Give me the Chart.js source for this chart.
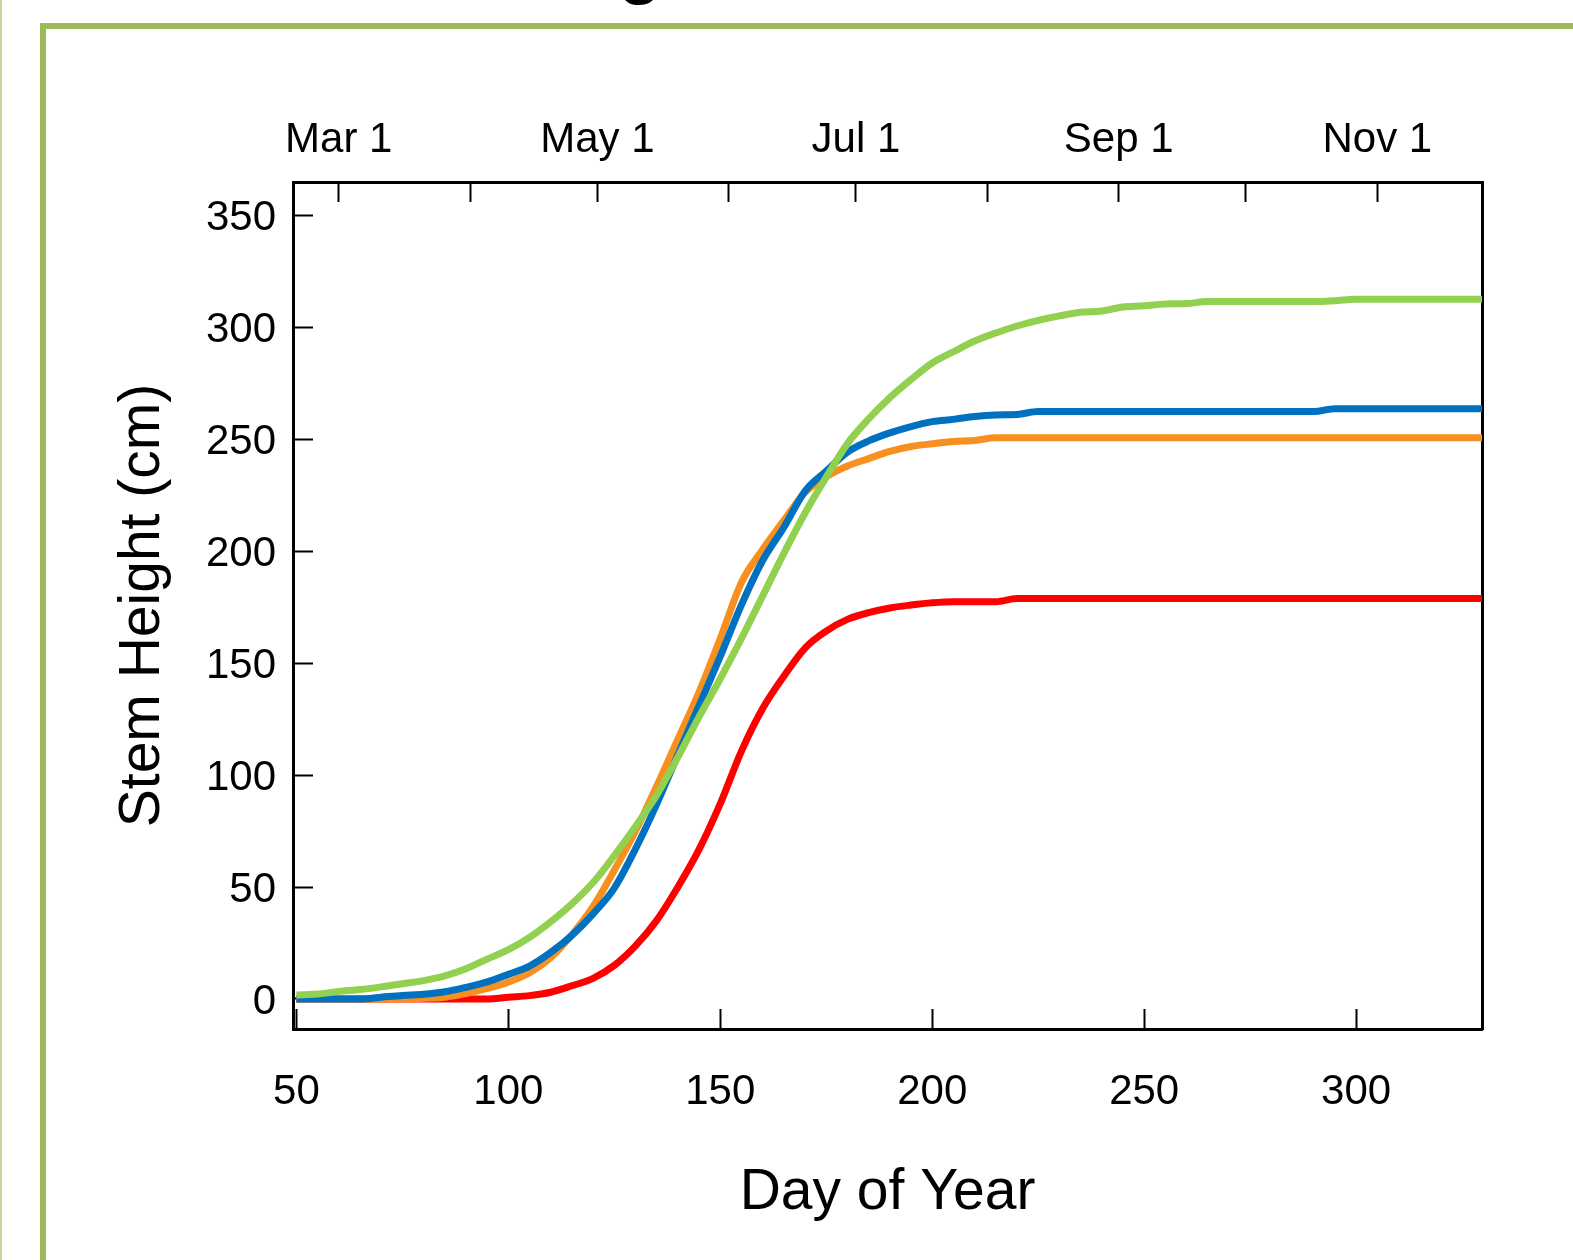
<!DOCTYPE html>
<html lang="en">

<head>
    <meta charset="UTF-8">
    <title>Stem Height</title>
    <script src="https://cdn.jsdelivr.net/npm/chart.js"></script>
    <style>
        html, body { margin: 0; padding: 0; background: #fff; }
        #box { width: 1573px; height: 1260px; }
    </style>
</head>

<body>
    <div id="box"><canvas id="mychart"></canvas></div>

    <script>
        // day of year
        var days = [50, 55, 60, 65, 70, 75, 80, 85, 90, 95, 100, 105, 110, 115, 120, 125, 130, 135, 140, 145,
            150, 155, 160, 165, 170, 175, 180, 185, 190, 195, 200, 205, 210, 215, 220, 225, 230, 235, 240, 245,
            250, 255, 260, 265, 270, 275, 280, 285, 290, 295, 300, 305, 310, 315, 320, 325, 330];

        // stem height (cm)
        var greenLine = [1.8, 2.2, 3.4, 4.2, 5.4, 6.8, 8.2, 10.3, 13.5, 17.8, 22, 27.5, 34.5, 42.5, 52, 64, 77, 91, 108, 126,
            143, 161, 180, 199, 217, 233, 248, 259, 268.5, 276.6, 284, 289, 293.8, 297.4, 300.5, 303, 305, 306.6, 307.2, 309,
            309.5, 310.3, 310.5, 311.4, 311.4, 311.4, 311.4, 311.4, 311.4, 311.8, 312.4, 312.4, 312.4, 312.4, 312.4, 312.4, 312.4];
        var blueLine = [0, 0, 0, 0, 0.8, 1.6, 2.1, 3.2, 5.2, 7.6, 11, 14.7, 20.8, 28.4, 38, 49.5, 67, 87, 109, 131,
            153, 176, 195.8, 210.6, 226.8, 235.7, 244.2, 249.2, 252.8, 255.6, 257.8, 258.8, 260.1, 260.8, 261, 262.3, 262.3, 262.3, 262.3, 262.3,
            262.3, 262.3, 262.3, 262.3, 262.3, 262.3, 262.3, 262.3, 262.3, 263.6, 263.6, 263.6, 263.6, 263.6, 263.6, 263.6, 263.6];
        var orangeLine = [0, 0, 0, 0, 0, 0, 0.3, 0.8, 2.4, 4.7, 7.5, 11.7, 18.5, 28.7, 41.3, 57.5, 75, 95, 116, 137,
            161, 186, 200.7, 213.7, 226.2, 233.2, 238, 241.3, 244.5, 246.7, 247.9, 248.9, 249.4, 250.6, 250.6, 250.6, 250.6, 250.6, 250.6, 250.6,
            250.6, 250.6, 250.6, 250.6, 250.6, 250.6, 250.6, 250.6, 250.6, 250.6, 250.6, 250.6, 250.6, 250.6, 250.6, 250.6, 250.6];
        var redLine = [0, 0, 0, 0, 0, 0, 0, 0, 0, 0, 0.8, 1.5, 3, 5.9, 9.2, 15, 23.7, 35.1, 50, 66.8,
            87.2, 110.7, 129.7, 144.1, 156.7, 164.3, 169.5, 172.5, 174.6, 175.9, 176.9, 177.4, 177.4, 177.4, 178.8, 178.8, 178.8, 178.8, 178.8, 178.8,
            178.8, 178.8, 178.8, 178.8, 178.8, 178.8, 178.8, 178.8, 178.8, 178.8, 178.8, 178.8, 178.8, 178.8, 178.8, 178.8, 178.8];

        // top axis: first day of each month
        var monthDays = [60, 91, 121, 152, 182, 213, 244, 274, 305];
        var monthLabels = ['Mar 1', '', 'May 1', '', 'Jul 1', '', 'Sep 1', '', 'Nov 1'];

        var FONT = '"Liberation Sans", Arial, sans-serif';
        Chart.defaults.font.family = FONT;
        Chart.defaults.color = '#000';

        function pts(vals) {
            return days.map(function (d, i) { return { x: d, y: vals[i] }; });
        }

        // white page, green frame, clipped title
        var framePlugin = {
            id: 'frame',
            beforeDraw: function (chart) {
                var ctx = chart.ctx;
                var w = chart.width, h = chart.height;
                ctx.save();
                ctx.fillStyle = '#fff';
                ctx.fillRect(0, 0, w, h);
                ctx.fillStyle = '#c4d79b';
                ctx.fillRect(0, 0, 2, h);
                ctx.fillStyle = '#9bbb59';
                ctx.fillRect(40, 23, w, 6);
                ctx.fillRect(40, 23, 6, h);
                ctx.fillStyle = '#000';
                ctx.font = 'bold 70px ' + FONT;
                ctx.textAlign = 'center';
                ctx.textBaseline = 'alphabetic';
                ctx.fillText('g', 640, -10);
                ctx.restore();
            }
        };

        var tickFont = { size: 42 };
        var titleFont = { size: 57 };
        var xMin = 49.2, xMax = 329.7;

        var ctx = document.getElementById('mychart');

        var mychart = new Chart(ctx, {
            type: 'line',
            data: {
                datasets: [
                    { label: 'green', data: pts(greenLine), borderColor: '#92d050' },
                    { label: 'blue', data: pts(blueLine), borderColor: '#0070c0' },
                    { label: 'orange', data: pts(orangeLine), borderColor: '#f7901e' },
                    { label: 'red', data: pts(redLine), borderColor: '#ff0000' }
                ].map(function (ds) {
                    ds.xAxisID = 'x';
                    ds.yAxisID = 'y';
                    ds.borderWidth = 7;
                    ds.pointRadius = 0;
                    ds.fill = false;
                    ds.cubicInterpolationMode = 'monotone';
                    return ds;
                })
            },
            options: {
                responsive: true,
                maintainAspectRatio: false,
                devicePixelRatio: 1,
                animation: false,
                layout: { padding: { left: 0, top: 0, right: 91, bottom: 0 } },
                plugins: {
                    legend: { display: false },
                    tooltip: { enabled: false }
                },
                scales: {
                    x: {
                        type: 'linear',
                        position: 'bottom',
                        min: xMin,
                        max: xMax,
                        ticks: { stepSize: 50, includeBounds: false, font: tickFont, padding: 58, maxRotation: 0, color: '#000' },
                        grid: { drawOnChartArea: false, tickLength: -20, tickWidth: 2, color: '#000' },
                        border: { color: '#000', width: 3 },
                        title: { display: true, text: 'Day of Year', font: titleFont, color: '#000', padding: { top: 0, bottom: 33 } },
                        afterFit: function (s) { s.height = 231; }
                    },
                    x2: {
                        type: 'linear',
                        position: 'top',
                        min: xMin,
                        max: xMax,
                        afterBuildTicks: function (s) {
                            s.ticks = monthDays.map(function (d) { return { value: d }; });
                        },
                        ticks: {
                            autoSkip: false, maxRotation: 0, font: tickFont, padding: 36, color: '#000',
                            callback: function (v) { return monthLabels[monthDays.indexOf(v)]; }
                        },
                        grid: { drawOnChartArea: false, tickLength: -20, tickWidth: 2, color: '#000' },
                        border: { color: '#000', width: 3 },
                        afterFit: function (s) { s.height = 182; }
                    },
                    y: {
                        type: 'linear',
                        position: 'left',
                        min: -13.4,
                        max: 364.8,
                        ticks: { stepSize: 50, includeBounds: false, font: tickFont, padding: 37, labelOffset: 3, color: '#000' },
                        grid: { drawOnChartArea: false, tickLength: -20, tickWidth: 2, color: '#000' },
                        border: { color: '#000', width: 3 },
                        title: { display: true, text: 'Stem Height (cm)', font: titleFont, color: '#000', padding: { top: 109, bottom: 0 } },
                        afterFit: function (s) { s.width = 293; }
                    },
                    y2: {
                        type: 'linear',
                        position: 'right',
                        min: 0,
                        max: 1,
                        ticks: { display: false },
                        grid: { display: false },
                        border: { color: '#000', width: 3 },
                        afterFit: function (s) { s.width = 0; }
                    }
                }
            },
            plugins: [framePlugin]
        });
    </script>
</body>

</html>
